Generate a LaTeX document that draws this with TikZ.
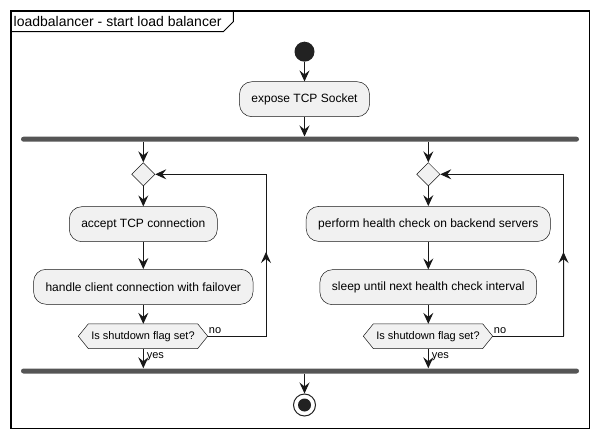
\documentclass[tikz,border=0pt]{standalone}
\usepackage{fontspec}
\setmainfont{Liberation Sans}
\usetikzlibrary{arrows.meta,calc,shapes.geometric,backgrounds}
\definecolor{boxfill}{HTML}{F1F1F1}
\definecolor{lc}{HTML}{181818}
\definecolor{barc}{HTML}{555555}
\definecolor{dotc}{HTML}{222222}
\begin{document}
\begin{tikzpicture}[x=1pt,y=-1pt,
  act/.style={draw=lc, line width=0.5pt, fill=boxfill, rounded corners=12.5pt,
    minimum height=35pt, inner xsep=12pt, inner ysep=0pt, font=\fontsize{12}{14}\selectfont},
  dia/.style={shape=diamond, draw=lc, line width=0.5pt, fill=boxfill, minimum width=23.4pt,
    minimum height=23.4pt, inner sep=0pt},
  hexbox/.style={minimum width=129pt, minimum height=24.3pt, inner sep=0pt, font=\fontsize{11}{13}\selectfont},
  hexline/.style={draw=lc, line width=0.5pt, fill=boxfill},
  bar/.style={fill=barc, minimum width=558pt, minimum height=5pt, inner sep=0pt, rounded corners=2.5pt},
  lab/.style={inner sep=0pt, font=\fontsize{11}{13}\selectfont},
  conn/.style={draw=lc, line width=1pt},
  arr/.style={conn, -{Stealth[length=11pt,width=10pt,inset=4pt]}},
]
\useasboundingbox (0,0) rectangle (599,438);
% frame
\draw[line width=1.2pt, black] (11,11) rectangle (589.3,428.3);
\draw[line width=1pt, black] (11,31.7) -- (223.3,31.7) -- (233.3,21.7) -- (233.3,11);
\node[anchor=west, inner sep=0pt, font=\fontsize{14}{16}\selectfont] (title) at (13.5,21.3) {loadbalancer - start load balancer};

% nodes
\node[circle, fill=dotc, minimum size=20pt, inner sep=0pt] (start) at (304.5,51.7) {};
\node[act] (expose) at (304.5,99.2) {expose TCP Socket};
\node[bar] (fork) at (300,139.2) {};
\node[dia] (d1) at (143.3,174.3) {};
\node[dia] (d2) at (428.3,174.3) {};
\node[act] (acc) at (143.3,224.2) {accept TCP connection};
\node[act] (hand) at (143.3,286.8) {handle client connection with failover};
\node[act] (perf) at (428.3,223.9) {perform health check on backend servers};
\node[act] (sleep) at (428.3,287.2) {sleep until next health check interval};
\node[hexbox] (h1) at (143,336.2) {Is shutdown flag set?};
\node[hexbox] (h2) at (428,336.2) {Is shutdown flag set?};
\begin{scope}[on background layer]
\foreach \h in {h1,h2}{
  \path[hexline] (\h.west) -- ([xshift=10pt]\h.north west) -- ([xshift=-10pt]\h.north east)
    -- (\h.east) -- ([xshift=-10pt]\h.south east) -- ([xshift=10pt]\h.south west) -- cycle;
}
\end{scope}
\node[bar] (join) at (300,371) {};
\node[circle, draw=dotc, line width=1pt, fill=white, minimum size=22pt, inner sep=0pt] (stop) at (304.5,405) {};
\fill[dotc] (stop.center) circle (6.5pt);

% labels
\node[lab, anchor=base west] (no1) at ($(h1.east)+(1,-2.6)$) {no};
\node[lab, anchor=base west] (no2) at ($(h2.east)+(1,-2.6)$) {no};
\node[lab, anchor=base west] (yes1) at ($(h1.south)+(3.6,9.6)$) {yes};
\node[lab, anchor=base west] (yes2) at ($(h2.south)+(3.6,9.6)$) {yes};

% connectors
\draw[arr] (start.south) -- (start.south |- expose.north);
\draw[arr] (expose.south -| start.south) -- (start.south |- fork.north);
\draw[arr] (fork.south -| d1.north) -- (d1.north);
\draw[arr] (fork.south -| d2.north) -- (d2.north);
\draw[arr] (d1.south) -- (acc.north);
\draw[arr] (acc.south) -- (hand.north);
\draw[arr] (hand.south) -- (hand.south |- h1.north);
\draw[arr] (hand.south |- h1.south) -- (hand.south |- join.north);
\draw[arr] (d2.south) -- (perf.north);
\draw[arr] (perf.south) -- (sleep.north);
\draw[arr] (sleep.south) -- (sleep.south |- h2.north);
\draw[arr] (sleep.south |- h2.south) -- (sleep.south |- join.north);
\coordinate (l1) at ($(h1.east)+(58.3,0)$);
\coordinate (l2) at ($(h2.east)+(70.8,0)$);
\draw[arr] (h1.east) -- (l1) |- (d1.east);
\draw[arr] (h2.east) -- (l2) |- (d2.east);
\draw[arr] (l1) -- ($(l1)!0.52!(l1 |- d1.east)$);
\draw[arr] (l2) -- ($(l2)!0.52!(l2 |- d2.east)$);
\draw[arr] (join.south -| stop.north) -- (stop.north);
\end{tikzpicture}
\end{document}
